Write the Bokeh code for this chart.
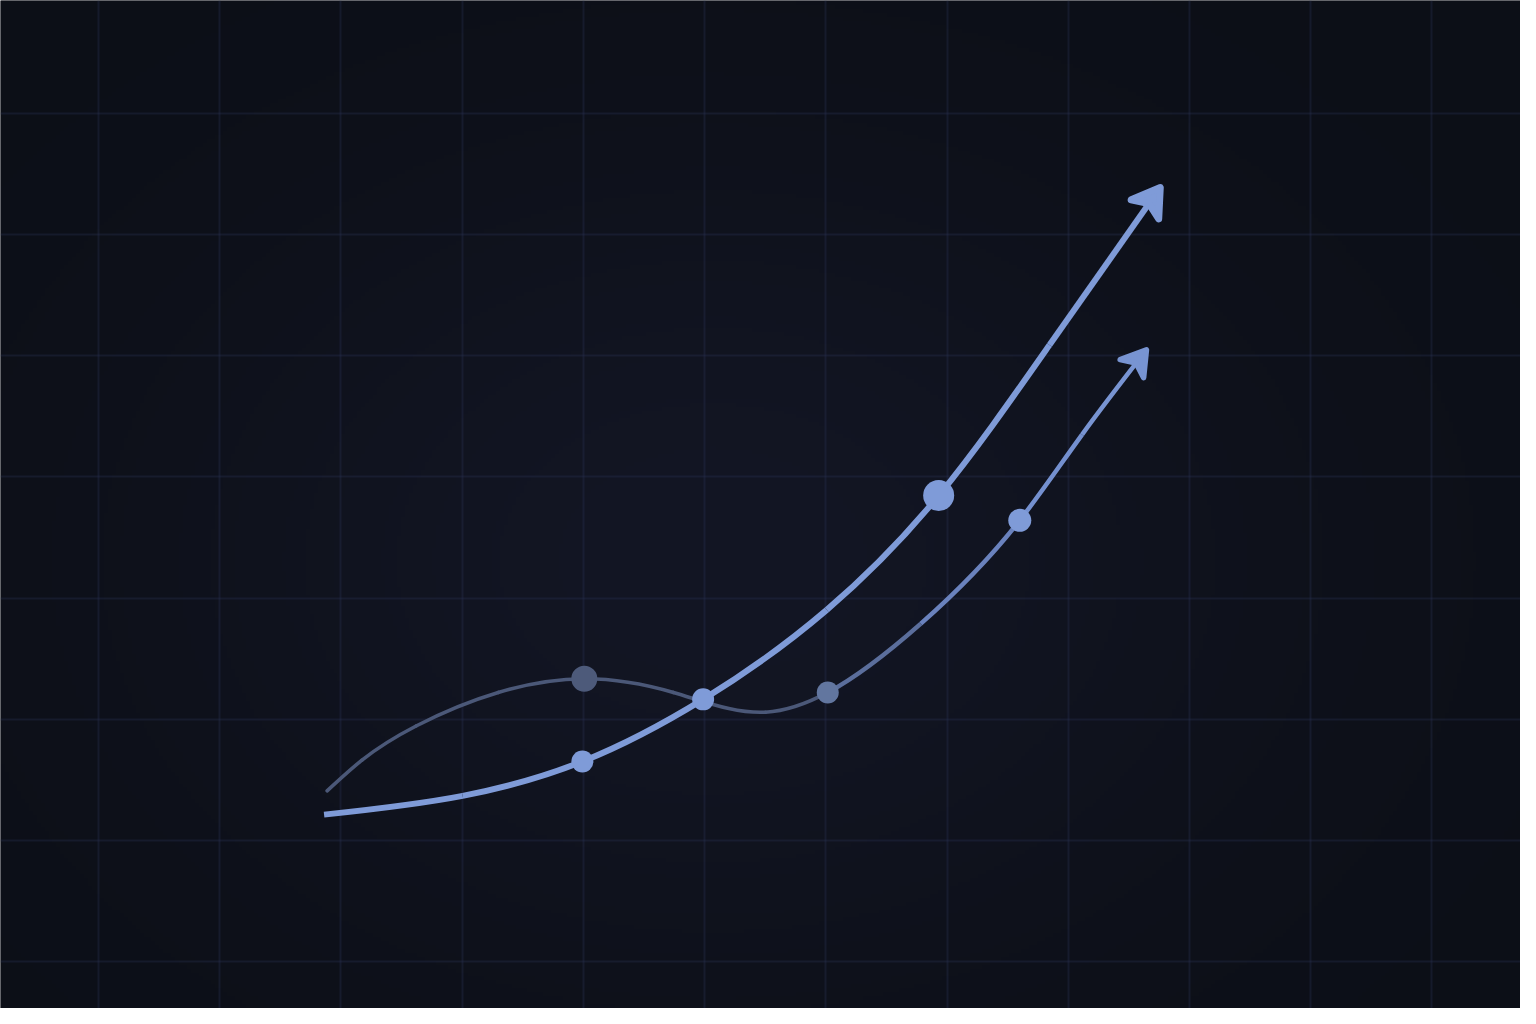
import numpy as np
from bokeh.plotting import figure
from bokeh.models import FixedTicker
from bokeh.embed import file_html
from bokeh.resources import INLINE

# ---- data (grid units) ----
main_x = [1.861, 3.004, 3.992, 4.988, 6.008, 6.931, 7.845, 8.759]
main_y = [1.211, 1.366, 1.650, 2.163, 2.902, 3.846, 5.089, 6.390]

sec_x = [1.886, 2.171, 2.620, 3.298, 4.008, 4.743, 5.502, 6.016, 6.784, 7.600, 8.114, 8.645]
sec_y = [1.407, 1.659, 1.943, 2.220, 2.333, 2.220, 2.057, 2.220, 2.789, 3.642, 4.350, 5.049]

main_dot_x = [3.992, 4.988, 6.931]
main_dot_y = [1.650, 2.163, 3.846]
sec_dot_x = [4.008, 6.016, 7.600]
sec_dot_y = [2.333, 2.220, 3.642]

grid_x = list(range(0, 12))
grid_y = list(range(0, 8))

# ---- styles ----
BLUE = "#7f9bd8"
BLUE2 = "#7894d2"
GREY = "#4b5878"
EDGE = (12, 15, 23)
CENTER = (19, 22, 36)

# reference-pixel frame -> grid units
SX, SY = 122.5, 123.0
OX, OY = 99.0, 976.0
X0, X1 = (0 - OX) / SX, (1536 - OX) / SX
Y0, Y1 = (OY - 1024) / SY, (OY - 0) / SY

p = figure(width=1520, height=1008, x_range=(X0, X1), y_range=(Y0, Y1),
           output_backend="svg", toolbar_location=None,
           x_axis_location=None, y_axis_location=None,
           min_border=0, min_border_left=0, min_border_right=0,
           min_border_top=0, min_border_bottom=0)
p.outline_line_color = None
p.background_fill_color = "#0c0f17"
p.border_fill_color = "#0c0f17"

# background glow
W, H = 384, 256
px = np.linspace(0, 1536, W)
py = np.linspace(1024, 0, H)
PX, PY = np.meshgrid(px, py)
d2 = ((PX - 720) / 700.0) ** 2 + ((PY - 570) / 520.0) ** 2
t = np.exp(-d2 * 1.6)
img = np.empty((H, W), dtype=np.uint32)
view = img.view(dtype=np.uint8).reshape((H, W, 4))
for k in range(3):
    view[:, :, k] = np.clip(EDGE[k] + (CENTER[k] - EDGE[k]) * t, 0, 255).astype(np.uint8)
view[:, :, 3] = 255
p.image_rgba(image=[img], x=X0, y=Y0, dw=X1 - X0, dh=Y1 - Y0, level="image")

# grid
p.xgrid.ticker = FixedTicker(ticks=grid_x)
p.ygrid.ticker = FixedTicker(ticks=grid_y)
for g in (p.xgrid, p.ygrid):
    g.grid_line_color = "#2a3352"
    g.grid_line_alpha = 0.34
    g.grid_line_width = 2


def spline_beziers(xs, ys):
    """Natural cubic spline through the data points, expressed as exact Bezier segments."""
    x = np.asarray(xs, float); y = np.asarray(ys, float)
    n = len(x); h = np.diff(x)
    A = np.zeros((n, n)); b = np.zeros(n)
    A[0, 0] = A[-1, -1] = 1.0
    for i in range(1, n - 1):
        A[i, i - 1] = h[i - 1]; A[i, i] = 2 * (h[i - 1] + h[i]); A[i, i + 1] = h[i]
        b[i] = 6 * ((y[i + 1] - y[i]) / h[i] - (y[i] - y[i - 1]) / h[i - 1])
    M = np.linalg.solve(A, b)
    segs = []
    for i in range(n - 1):
        s = (y[i + 1] - y[i]) / h[i]
        d0 = s - h[i] * (2 * M[i] + M[i + 1]) / 6
        d1 = s + h[i] * (M[i] + 2 * M[i + 1]) / 6
        segs.append((x[i], y[i], x[i + 1], y[i + 1],
                     x[i] + h[i] / 3, y[i] + h[i] / 3 * d0,
                     x[i + 1] - h[i] / 3, y[i + 1] - h[i] / 3 * d1))
    return segs, d1


def draw_curve(segs, colors, width, cap="round"):
    s = np.array(segs)
    p.bezier(x0=s[:, 0], y0=s[:, 1], x1=s[:, 2], y1=s[:, 3],
             cx0=s[:, 4], cy0=s[:, 5], cx1=s[:, 6], cy1=s[:, 7],
             line_color=colors, line_width=width, line_cap=cap)


def arrow_head(xe, ye, slope, length, half_w, notch, color, lw):
    tip = np.array([OX + xe * SX, OY - ye * SY])
    d = np.array([SX, -SY * slope]); d /= np.linalg.norm(d)
    nrm = np.array([-d[1], d[0]])
    pts = [tip,
           tip - length * d + half_w * nrm,
           tip - notch * d,
           tip - length * d - half_w * nrm]
    hx = [(q[0] - OX) / SX for q in pts]
    hy = [(OY - q[1]) / SY for q in pts]
    p.patch(hx, hy, fill_color=color, line_color=color, line_width=lw, line_join="round")


# secondary curve: grey part, then fading into blue
sec_segs, sec_end = spline_beziers(sec_x, sec_y)
k = 7
draw_curve(sec_segs[:k], GREY, 3.6)
draw_curve(sec_segs[k:], ["#5b6e9c", "#6a82bd", "#7490cf", BLUE2], 4.5, cap="butt")
arrow_head(sec_x[-1], sec_y[-1], sec_end, 24, 15, 17, BLUE2, 5.5)

# main curve
main_segs, main_end = spline_beziers(main_x, main_y)
draw_curve(main_segs, BLUE, 6, cap="butt")
arrow_head(main_x[-1], main_y[-1], main_end, 27, 17, 20, BLUE, 7)

# dots
p.scatter(sec_dot_x, sec_dot_y, size=[26, 22, 23],
          fill_color=["#4d5a7a", "#62769f", BLUE], line_color=None)
p.scatter(main_dot_x, main_dot_y, size=[22, 22, 31], fill_color=BLUE, line_color=None)

open("out.html", "w").write(file_html(p, INLINE))
